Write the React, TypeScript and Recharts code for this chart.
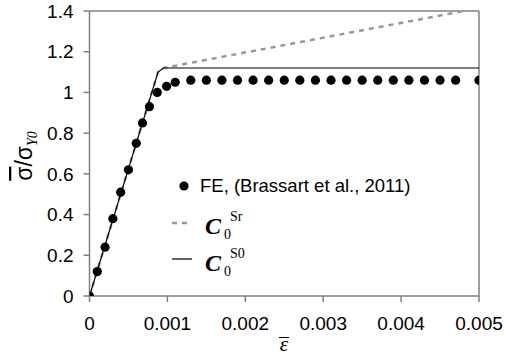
import React from 'react';
import { ComposedChart, Scatter, Line, XAxis, YAxis, ReferenceLine } from 'recharts';

const feStrain = [0, 0.0001, 0.0002, 0.0003, 0.0004, 0.0005, 0.0006, 0.00068, 0.00077, 0.00087, 0.00099, 0.0011,
  0.0013, 0.0015, 0.0017, 0.0019, 0.0021, 0.0023, 0.0025, 0.0027, 0.0029, 0.0031, 0.0033, 0.0035, 0.0037, 0.0039,
  0.0041, 0.0043, 0.0045, 0.0047, 0.005];
const feStress = [0, 0.12, 0.24, 0.38, 0.51, 0.62, 0.75, 0.85, 0.93, 1.0, 1.03, 1.05,
  1.06, 1.06, 1.06, 1.06, 1.06, 1.06, 1.06, 1.06, 1.06, 1.06, 1.06, 1.06, 1.06, 1.06,
  1.06, 1.06, 1.06, 1.06, 1.06];
const s0Strain = [0, 0.00088, 0.00095, 0.005];
const s0Stress = [0, 1.1, 1.12, 1.12];
const srStrain = [0, 0.00088, 0.00095, 0.005];
const srStress = [0, 1.1, 1.12, 1.414];
const xTicks = [0, 0.001, 0.002, 0.003, 0.004, 0.005];
const yTicks = [0, 0.2, 0.4, 0.6, 0.8, 1, 1.2, 1.4];
const feName = 'FE, (Brassart et al., 2011)';
const cSymbol = 'C';
const srSup = 'Sr';
const s0Sup = 'S0';

const feData = feStrain.map((x, i) => ({ x, y: feStress[i] }));
const s0Data = s0Strain.map((x, i) => ({ x, y: s0Stress[i] }));
const srData = srStrain.map((x, i) => ({ x, y: srStress[i] }));

const AXIS = '#808080';
const SANS = '"Liberation Sans", Arial, sans-serif';
const SERIF = '"Liberation Serif", "Times New Roman", serif';

const Dot = (props: any) => <circle cx={props.cx} cy={props.cy} r={4.6} fill="#000" />;

const XTitle = () => (
  <g>
    <line x1={279} x2={289} y1={337.5} y2={337.5} stroke="#000" strokeWidth={1} />
    <text x={284} y={351} textAnchor="middle" fontFamily={SERIF} fontStyle="italic" fontSize={21} fill="#000">ε</text>
  </g>
);

const YTitle = () => (
  <text transform="translate(32,156) rotate(-90)" textAnchor="middle" fontFamily={SANS} fontSize={23} fill="#000">
    <tspan style={{ textDecoration: 'overline' }}>σ</tspan>
    <tspan>/σ</tspan>
    <tspan fontFamily={SERIF} fontStyle="italic" fontSize={14} dy={5}>Y0</tspan>
  </text>
);

const LegendOverlay = () => (
  <svg width={506} height={360} style={{ position: 'absolute', left: 0, top: 0, pointerEvents: 'none' }}>
    <circle cx={184} cy={186} r={4.6} fill="#000" />
    <text x={200} y={192} fontFamily={SANS} fontSize={18.5} fill="#000">{feName}</text>

    <line x1={172} x2={192} y1={223} y2={223} stroke="#999" strokeWidth={2.5} strokeDasharray="5 5" />
    <text x={205} y={234} fontFamily={SERIF} fill="#000">
      <tspan fontWeight="bold" fontStyle="italic" fontSize={24}>{cSymbol}</tspan>
      <tspan fontSize={14} dy={5} dx={3}>0</tspan>
      <tspan fontSize={14} dy={-18} dx={-1}>{srSup}</tspan>
    </text>

    <line x1={172} x2={192} y1={259} y2={259} stroke="#000" strokeWidth={1.2} />
    <text x={205} y={271} fontFamily={SERIF} fill="#000">
      <tspan fontWeight="bold" fontStyle="italic" fontSize={24}>{cSymbol}</tspan>
      <tspan fontSize={14} dy={5} dx={3}>0</tspan>
      <tspan fontSize={14} dy={-18} dx={-1}>{s0Sup}</tspan>
    </text>
  </svg>
);

export default function App() {
  return (
    <div style={{ position: 'absolute', left: 0, top: 0, width: 506, height: 360, background: '#fff' }}>
      <ComposedChart width={506} height={360} margin={{ top: 11, right: 27, bottom: 24, left: 0 }}
        style={{ fontFamily: SANS }}>
        <XAxis type="number" dataKey="x" domain={[0, 0.005]} ticks={xTicks} allowDataOverflow
          tickFormatter={(v: number) => String(v)} height={40}
          stroke={AXIS} strokeWidth={1.5} tickSize={6} tickMargin={15}
          tick={{ fontSize: 19, fill: '#000', fontFamily: SANS }}
          label={() => <XTitle />} />
        <YAxis type="number" dataKey="y" domain={[0, 1.4]} ticks={yTicks} allowDataOverflow
          width={89.5} stroke={AXIS} strokeWidth={1.5} tickSize={6} tickMargin={10}
          tick={{ fontSize: 19, fill: '#000', fontFamily: SANS }}
          label={() => <YTitle />} />
        <ReferenceLine y={1.4} stroke={AXIS} strokeWidth={1.5} />
        <ReferenceLine x={0.005} stroke={AXIS} strokeWidth={1.5} />
        <Line data={srData} dataKey="y" type="linear" stroke="#999" strokeWidth={2.5}
          strokeDasharray="5 5" dot={false} activeDot={false} isAnimationActive={false} />
        <Line data={s0Data} dataKey="y" type="linear" stroke="#000" strokeWidth={1.2}
          dot={false} activeDot={false} isAnimationActive={false} />
        <Scatter data={feData} dataKey="y" shape={Dot} isAnimationActive={false} />
      </ComposedChart>
      <LegendOverlay />
    </div>
  );
}
